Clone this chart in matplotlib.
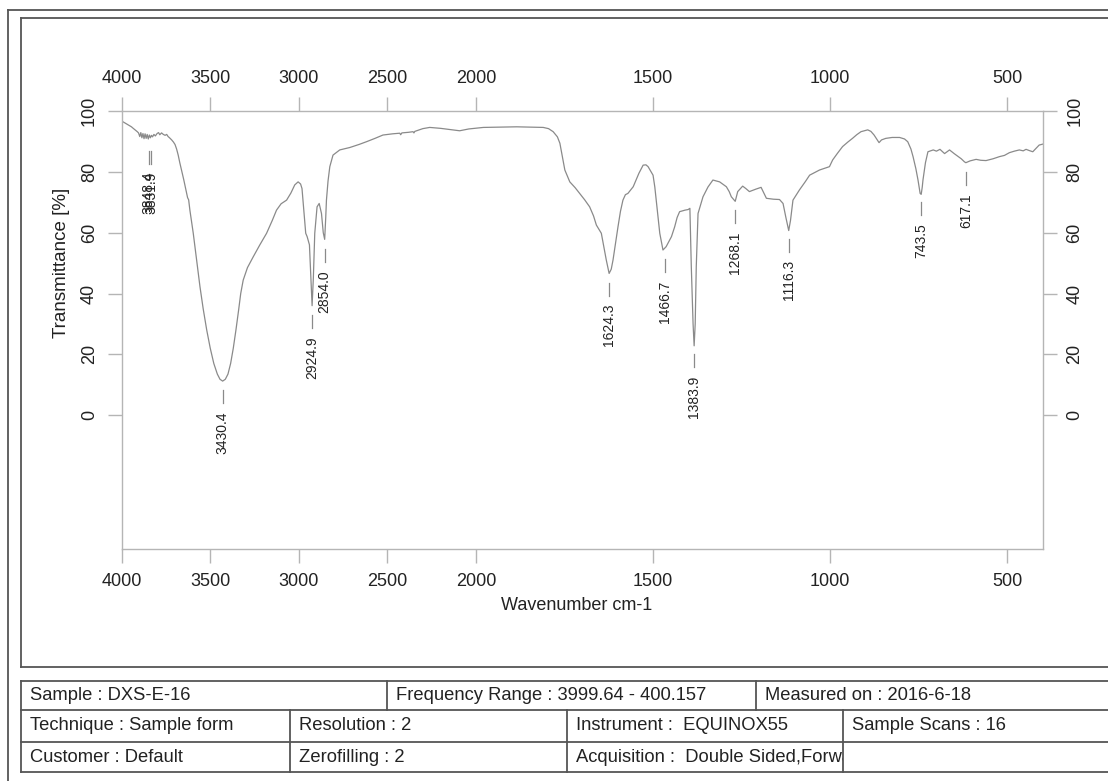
import numpy as np
import matplotlib.pyplot as plt
from matplotlib.lines import Line2D
from matplotlib.transforms import Bbox, TransformedBbox

plt.rcParams['font.family'] = ['Liberation Sans', 'DejaVu Sans']

# spectrum (wavenumber cm-1, transmittance %)
wavenumber = [4000, 3980, 3960, 3945, 3935, 3920, 3912, 3905, 3898, 3892, 3886, 3880, 3874, 3868,
              3862, 3856, 3850, 3844, 3838, 3832, 3826, 3818, 3810, 3800, 3792, 3785, 3775, 3765,
              3755, 3746, 3738, 3730, 3718, 3708, 3699, 3690, 3681, 3672, 3662, 3650, 3637, 3628,
              3622, 3615, 3596, 3577, 3558, 3540, 3520, 3500, 3480, 3460, 3445, 3430, 3415, 3400,
              3385, 3370, 3355, 3340, 3328, 3314, 3290, 3258, 3220, 3182, 3150, 3126, 3100, 3069,
              3045, 3023, 3004, 2990, 2982, 2972, 2961, 2953, 2940, 2932, 2925, 2918, 2910, 2897,
              2885, 2872, 2862, 2854, 2848, 2844, 2835, 2825, 2807, 2769, 2712, 2660, 2618, 2570,
              2525, 2470, 2430, 2425, 2418, 2380, 2355, 2350, 2345, 2300, 2261, 2200, 2148, 2092,
              2040, 1979, 1930, 1885, 1840, 1810, 1795, 1782, 1770, 1763, 1756, 1749, 1735, 1720,
              1707, 1693, 1679, 1668, 1660, 1646, 1632, 1624, 1618, 1613, 1606, 1599, 1592, 1585,
              1578, 1571, 1556, 1540, 1528, 1520, 1514, 1500, 1495, 1491, 1486, 1481, 1472, 1463,
              1448, 1439, 1432, 1425, 1410, 1401, 1396, 1392, 1387, 1384, 1381, 1378, 1373, 1359,
              1345, 1331, 1312, 1293, 1285, 1279, 1268, 1261, 1247, 1238, 1228, 1210, 1195, 1187,
              1180, 1160, 1143, 1133, 1125, 1117, 1112, 1105, 1087, 1070, 1058, 1030, 1002, 993,
              980, 965, 950, 937, 925, 913, 900, 894, 885, 876, 862, 855, 843, 825,
              804, 790, 781, 772, 766, 758, 752, 746, 743, 740, 738, 731, 724, 709,
              700, 690, 677, 663, 650, 644, 630, 621, 617, 605, 588, 575, 560, 540,
              522, 508, 494, 480, 466, 455, 447, 438, 428, 418, 410, 400]
transmittance = [96.7, 96.0, 95.3, 94.8, 94.3, 93.6, 93.2, 92.8, 91.6, 92.9, 91.2, 92.6, 90.9, 92.5,
                 91.0, 92.3, 90.8, 92.1, 91.2, 92.0, 91.5, 92.3, 91.8, 92.6, 92.9, 92.2, 92.8, 92.3,
                 92.0, 92.3, 91.6, 91.2, 90.5, 89.8, 89.0, 87.5, 85.5, 83.0, 80.5, 77.5, 74.0, 71.5,
                 70.8, 67.4, 59.8, 51.0, 42.2, 35.0, 28.0, 22.0, 17.0, 13.5, 11.8, 11.2, 11.8, 13.5,
                 17.0, 22.0, 28.0, 34.5, 40.0, 44.4, 48.5, 52.0, 56.0, 59.8, 64.0, 67.4, 69.5, 70.7,
                 73.0, 75.7, 76.7, 76.0, 74.5, 67.4, 59.8, 58.7, 56.0, 45.0, 36.0, 45.0, 59.8, 68.5,
                 69.6, 66.3, 60.0, 57.8, 65.0, 70.7, 77.0, 81.7, 85.5, 87.2, 88.0, 89.0, 89.9, 91.0,
                 92.1, 92.5, 92.7, 92.2, 92.8, 93.0, 93.2, 92.8, 93.3, 94.2, 94.6, 94.3, 93.9, 93.5,
                 94.1, 94.6, 94.7, 94.8, 94.7, 94.6, 94.2, 93.2, 91.5, 89.4, 85.0, 80.6, 76.7, 74.8,
                 72.9, 70.8, 68.5, 65.5, 62.5, 59.8, 51.0, 46.6, 48.0, 51.0, 56.5, 61.9, 67.0, 70.7,
                 72.5, 72.9, 75.1, 79.5, 82.2, 82.3, 81.7, 78.9, 75.0, 70.7, 65.0, 59.8, 54.3, 55.4,
                 58.7, 61.9, 65.0, 66.9, 67.4, 67.6, 68.0, 48.8, 30.0, 22.8, 30.0, 48.8, 66.3, 71.8,
                 75.0, 77.3, 76.7, 75.1, 73.5, 71.8, 70.3, 73.5, 75.3, 74.5, 73.5, 74.3, 74.9, 73.0,
                 71.3, 71.0, 70.9, 69.6, 65.0, 60.7, 64.0, 70.7, 74.0, 76.8, 78.9, 80.6, 81.7, 83.9,
                 86.0, 88.3, 89.8, 91.0, 92.2, 93.2, 93.6, 93.8, 93.3, 92.1, 89.6, 90.5, 91.0, 91.3,
                 91.3, 90.8, 89.9, 87.5, 85.0, 81.0, 77.3, 72.9, 72.6, 75.0, 77.3, 83.0, 86.6, 87.2,
                 86.8, 87.4, 86.0, 87.2, 86.0, 85.5, 84.3, 83.3, 83.0, 83.6, 84.1, 83.8, 83.7, 84.3,
                 85.0, 85.4, 86.3, 86.8, 87.2, 86.9, 87.4, 87.0, 86.6, 87.8, 88.8, 89.1]

# peak picks
peak_wn = [3848.4, 3831.9, 3430.4, 2924.9, 2854.0, 1624.3, 1466.7, 1383.9, 1268.1, 1116.3, 743.5, 617.1]
peak_T = [90.0, 90.0, 11.2, 36.0, 57.5, 46.6, 54.3, 23.0, 70.4, 60.9, 73.0, 83.0]

x_ticks = [4000, 3500, 3000, 2500, 2000, 1500, 1000, 500]
y_ticks = [0, 20, 40, 60, 80, 100]

row1 = ["Sample : DXS-E-16", "Frequency Range : 3999.64 - 400.157", "Measured on : 2016-6-18"]
row2 = ["Technique : Sample form", "Resolution : 2", "Instrument :  EQUINOX55", "Sample Scans : 16"]
row3 = ["Customer : Default", "Zerofilling : 2", "Acquisition :  Double Sided,Forward", ""]

W, H = 1108, 781
fig = plt.figure(figsize=(W / 100, H / 100), dpi=100)


def fx(x):
    return x / W


def fy(y):
    return 1 - y / H


def fwd(x):
    x = np.asarray(x, dtype=float)
    return np.where(x >= 2000, 2000 + (x - 2000) / 2, x)


def inv(y):
    y = np.asarray(y, dtype=float)
    return np.where(y >= 2000, 2000 + (y - 2000) * 2, y)


ax = fig.add_axes([fx(121.7), fy(549), fx(1042.7) - fx(121.7), fy(111) - fy(549)])
ax.set_xscale('function', functions=(fwd, inv))
ax.plot(wavenumber, transmittance, color='#8a8a8a', lw=0.9)
ax.set_xlim(4000, 400)
ax.set_ylim(-44, 100)
ax.set_xticks(x_ticks)
ax.set_xticklabels([str(t) for t in x_ticks])
ax.set_yticks(y_ticks)
ax.minorticks_off()

for s in ax.spines.values():
    s.set_color('#b5b5b5')
    s.set_linewidth(1)
ax.tick_params(axis='both', which='major', length=10, width=1, color='#b5b5b5',
               labelsize=13, labelcolor='#222222', direction='out')
ax.tick_params(axis='x', top=True, labeltop=True, pad=7)
ax.tick_params(axis='y', right=True, labelright=True, labelrotation=90, pad=7)
for t in ax.yaxis.get_major_ticks():
    t.label1.set_va('center')
    t.label2.set_va('center')
    t.label2.set_ha('left')

for wn, tv in zip(peak_wn, peak_T):
    ax.plot([wn, wn], [tv - 3.0, tv - 7.3], color='#8a8a8a', lw=0.9)
    ax.text(wn, tv - 10, f"{wn:.1f}", rotation=90, ha='center', va='top',
            fontsize=10, color='#222222')

# y label centred on the 0..100 span
fig.text(fx(62), fy(263), "Transmittance [%]", rotation=90, ha='center', va='center',
         fontsize=13.5, color='#222222')
fig.text(fx(577), fy(605), "Wavenumber cm-1", ha='center', va='center', fontsize=13, color='#222222')

# frames
frame_col = '#555555'


def hline(y, x0, x1, lw=1.3):
    fig.add_artist(Line2D([fx(x0), fx(x1)], [fy(y), fy(y)], color=frame_col, lw=lw))


def vline(x, y0, y1, lw=1.3):
    fig.add_artist(Line2D([fx(x), fx(x)], [fy(y0), fy(y1)], color=frame_col, lw=lw))


hline(10, 7.5, W)
vline(7.5, 10, H)
hline(18, 21, W)
vline(21, 18, 667)
hline(667, 21, W)

# table
rows_y = [681, 710, 742, 772]
for y in rows_y:
    hline(y, 21, W)
vline(21, 681, 772)
vline(387, 681, 710)
vline(756, 681, 710)
for x in [290, 567, 843]:
    vline(x, 710, 772)

col1 = [21, 387, 756]
col23 = [21, 290, 567, 843]
for x, s in zip(col1, row1):
    fig.text(fx(x + 9), fy(696), s, ha='left', va='center', fontsize=13.2, color='#222222')
for r, (y0, y1) in zip([row2, row3], [(710, 742), (742, 772)]):
    for i, (x, s) in enumerate(zip(col23, r)):
        t = fig.text(fx(x + 9), fy((y0 + y1) / 2), s, ha='left', va='center',
                     fontsize=13.2, color='#222222')
        right = col23[i + 1] if i + 1 < len(col23) else W
        t.set_clip_box(TransformedBbox(Bbox([[fx(x), fy(y1)], [fx(right), fy(y0)]]),
                                       fig.transFigure))
        t.set_clip_on(True)

fig.savefig('out.png', dpi=100)
